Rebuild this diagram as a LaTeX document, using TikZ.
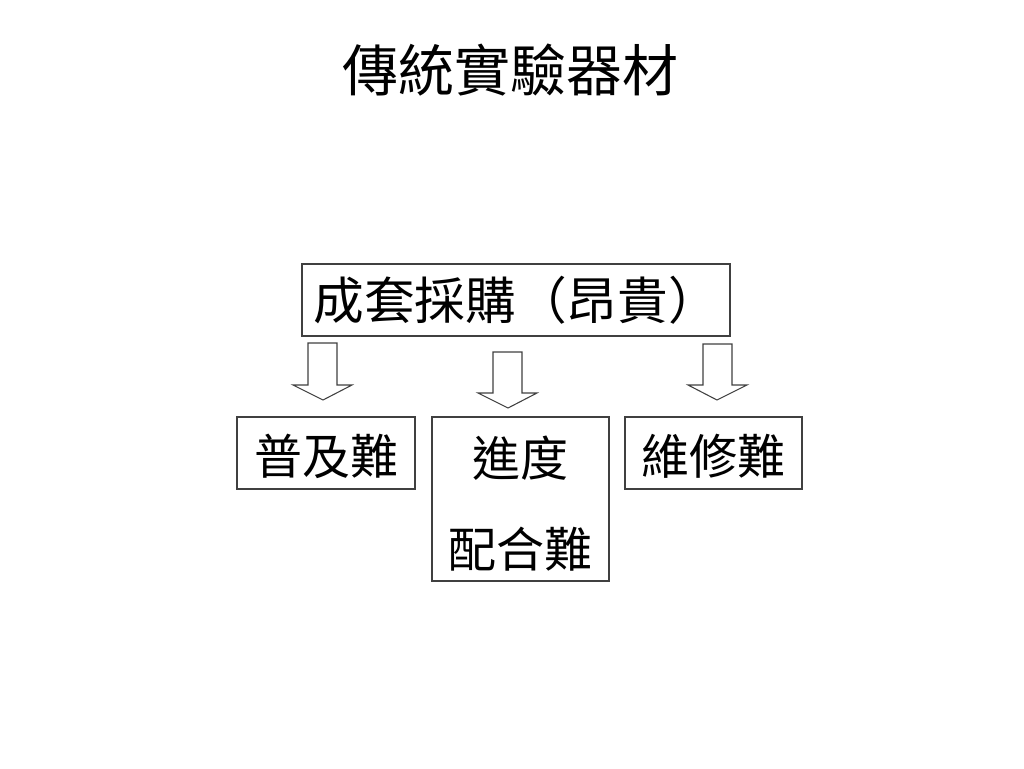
\documentclass[tikz,border=0pt]{standalone}
\usepackage{fontspec}
\newfontfamily\cjk{Noto Sans CJK TC}
\begin{document}
\begin{tikzpicture}[x=0.75pt,y=-0.75pt,
  box/.style={draw=black!75,line width=0.8pt},
  txt/.style={font=\cjk\fontsize{36}{48}\selectfont,inner sep=0pt},
  arr/.style={draw=black!75,line width=0.8pt,fill=white,line join=miter}]
\useasboundingbox (0,0) rectangle (1024,768);
\node[font=\cjk\fontsize{42}{48}\selectfont,inner sep=0pt] (title) at (510,70) {傳統實驗器材};
% top box
\draw[box] (302,264) rectangle (730,336);
\node[txt,font=\cjk\fontsize{38}{48}\selectfont] (top) at (516,300) {成套採購（昂貴）};
% bottom boxes
\draw[box] (237,417) rectangle (415,489);
\node[txt] (b1) at (326,456) {普及難};
\draw[box] (432,417) rectangle (609,581);
\node[txt] (b2a) at (520,458) {進度};
\node[txt] (b2b) at (520,549) {配合難};
\draw[box] (625,417) rectangle (802,489);
\node[txt] (b3) at (713,456) {維修難};
% arrows
\draw[arr] (308,343) -- (337,343) -- (337,385) -- (352,385) -- (323,400) -- (293,385) -- (308,385) -- cycle;
\draw[arr] (493,352) -- (522,352) -- (522,393) -- (537,393) -- (508,408) -- (478,393) -- (493,393) -- cycle;
\draw[arr] (703,344) -- (732,344) -- (732,385) -- (747,385) -- (717,400) -- (688,385) -- (703,385) -- cycle;
\end{tikzpicture}
\end{document}
